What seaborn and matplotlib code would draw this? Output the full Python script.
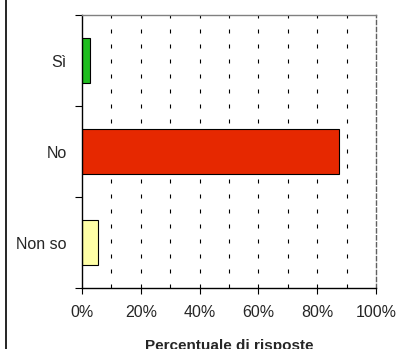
import numpy as np
import matplotlib
matplotlib.use("Agg")
import matplotlib.pyplot as plt
import pandas as pd
import seaborn as sns
from matplotlib.lines import Line2D
from matplotlib.ticker import FixedLocator, PercentFormatter

# data
categories = ["Sì", "No", "Non so"]
values = [2.8, 87.5, 5.5]
bar_colors = ["#1fbd1f", "#e62800", "#ffffa6"]
x_ticks = [0, 20, 40, 60, 80, 100]
grid_pos = [10, 20, 30, 40, 50, 60, 70, 80, 90]

sns.set_style("white")
plt.rcParams['font.family'] = ['Liberation Sans', 'DejaVu Sans']

df = pd.DataFrame({'cat': categories, 'pct': values})

fig = plt.figure(figsize=(3.96, 3.49), dpi=100)
ax = fig.add_axes([82 / 396, 1 - 288 / 349, 294 / 396, 273 / 349])

for g in grid_pos:
    ax.axvline(g, color='black', lw=0.8, linestyle=(0, (3.6, 9.9)), zorder=0)

sns.barplot(data=df, x='pct', y='cat', hue='cat', palette=bar_colors,
            orient='h', width=0.5, edgecolor='black', linewidth=0.8,
            saturation=1, legend=False, ax=ax, zorder=2)

ax.set_xlim(0, 100)
ax.set_ylim(2.5, -0.5)
ax.set_xticks(x_ticks)
ax.xaxis.set_major_formatter(PercentFormatter(decimals=0))
ax.tick_params(axis='x', direction='out', length=4, width=0.8, color='black',
               labelsize=11.5, pad=8, bottom=True)
ax.tick_params(axis='y', which='major', length=0, labelsize=11.5, pad=11)
ax.yaxis.set_minor_locator(FixedLocator([-0.5, 0.5, 1.5, 2.5]))
ax.tick_params(axis='y', which='minor', direction='out', length=5, width=0.8,
               color='black', left=True)
ax.set_ylabel('')
ax.set_xlabel('Percentuale di risposte', fontsize=11, fontweight='bold', labelpad=14)

for side in ['left', 'bottom']:
    ax.spines[side].set_color('black')
    ax.spines[side].set_linewidth(1)
ax.spines['top'].set_color('#808080')
ax.spines['top'].set_linewidth(1)
ax.spines['right'].set_color('#606060')
ax.spines['right'].set_linewidth(1)
ax.spines['right'].set_linestyle((0, (3, 2)))

fig.add_artist(Line2D([5.5 / 396, 5.5 / 396], [0, 1], color='black', lw=1.2,
                      transform=fig.transFigure))

fig.savefig('out.png', dpi=100)
